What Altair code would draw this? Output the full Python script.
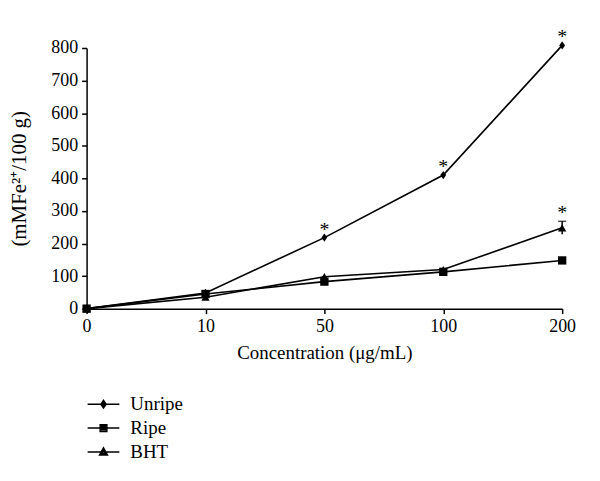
import altair as alt
import pandas as pd

concentrations = ["0", "10", "50", "100", "200"]
series_names = ["Unripe", "Ripe", "BHT"]
unripe = [0, 48, 218, 410, 808]
ripe = [0, 45, 83, 113, 148]
bht = [0, 35, 98, 120, 248]
bht_err = [0, 0, 0, 0, 20]
# asterisk flags (significance)
unripe_star = [False, False, True, True, True]
ripe_star = [False, False, False, False, False]
bht_star = [False, False, False, False, True]

rows = []
for name, vals, stars, errs in [
    ("Unripe", unripe, unripe_star, [0] * 5),
    ("Ripe", ripe, ripe_star, [0] * 5),
    ("BHT", bht, bht_star, bht_err),
]:
    for c, v, s, e in zip(concentrations, vals, stars, errs):
        rows.append({"conc": c, "value": v, "series": name, "star": s,
                     "lo": v - e, "hi": v + e, "err": e})
df = pd.DataFrame(rows)

FONT = "Liberation Serif"

x_enc = alt.X("conc:O", scale=alt.Scale(domain=concentrations, type="point", padding=0),
              axis=alt.Axis(title="Concentration (μg/mL)", labelAngle=0, titleFontSize=19,
                            titleX=239, titleY=44, titleBaseline="middle", titleAlign="center"))
y_scale = alt.Scale(domain=[0, 800], nice=False)
y_axis = alt.Axis(title="(mMFe²⁺/100 g)", values=list(range(0, 801, 100)),
                  labelOverlap=False, titleX=-67, titleY=131, titleAngle=-90,
                  titleFontSize=21, titleBaseline="middle", titleAlign="center")


def Y(field):
    return alt.Y(field, scale=y_scale, axis=y_axis)


base = alt.Chart(df)

lines = base.mark_line(color="black", strokeWidth=1.6, clip=False).encode(
    x=x_enc, y=Y("value:Q"), detail="series:N")

points = base.mark_point(filled=True, color="black", opacity=1).encode(
    x=x_enc, y=Y("value:Q"),
    shape=alt.Shape("series:N", scale=alt.Scale(
        domain=series_names,
        range=["M0,-1L0.7,0L0,1L-0.7,0Z", "square", "triangle-up"]), legend=None),
    size=alt.Size("series:N", scale=alt.Scale(domain=series_names, range=[70, 70, 81]),
                  legend=None),
)

err_df = base.transform_filter("datum.err > 0")
err_rule = err_df.mark_rule(color="black", strokeWidth=1.5).encode(
    x=x_enc, y=Y("lo:Q"), y2="hi:Q")
err_cap = err_df.mark_tick(color="black", thickness=1.5, size=8, orient="horizontal").encode(
    x=x_enc, y=Y("hi:Q"))

stars = base.transform_filter("datum.star").mark_text(
    text="*", font=FONT, fontSize=20, color="black", baseline="middle", dy=-8
).encode(x=x_enc, y=Y("hi:Q"))

L = "M-1.33,0H1.33"
diamond_legend = L + "M0,-0.32L0.22,0L0,0.32L-0.22,0ZM0,-0.15L0.1,0L0,0.15L-0.1,0Z"
square_legend = L + "M-0.28,-0.28H0.28V0.28H-0.28ZM-0.15,-0.15H0.15V0.15H-0.15ZM-0.04,-0.04H0.04V0.04H-0.04Z"
tri_legend = L + "M0,-0.34L0.33,0.26H-0.33ZM0,-0.14L0.16,0.16H-0.16Z"

legend_layer = base.transform_calculate(legend_series="datum.series", yy="-1000").mark_point(
    filled=False, color="black", strokeWidth=1.5, clip=True
).encode(
    x=x_enc, y=Y("yy:Q"),
    shape=alt.Shape("legend_series:N", scale=alt.Scale(
        domain=series_names,
        range=[diamond_legend, square_legend, tri_legend]),
        legend=alt.Legend(title=None, orient="none", legendX=4, legendY=345,
                          symbolSize=576, labelFont=FONT, labelFontSize=19,
                          labelOffset=14, rowPadding=1, padding=0,
                          symbolStrokeWidth=1.5, symbolStrokeColor="black",
                          symbolOpacity=1, labelColor="black", labelBaseline="middle")),
)

chart = alt.layer(lines, points, err_rule, err_cap, stars, legend_layer).resolve_scale(
    shape="independent", size="independent"
).properties(
    width=478, height=262,
    autosize=alt.AutoSizeParams(type="none"),
    padding={"left": 79, "top": 39, "right": 30, "bottom": 164},
).configure_view(stroke=None).configure_axis(
    domainColor="black", domainWidth=1.5, tickColor="black", tickWidth=1.5, tickSize=5,
    labelFont=FONT, labelFontSize=18, labelColor="black", labelPadding=4,
    titleFont=FONT, titleColor="black", titleFontWeight="normal",
    grid=False,
)

chart.save("out.html", embed_options={"renderer": "svg", "actions": False})
